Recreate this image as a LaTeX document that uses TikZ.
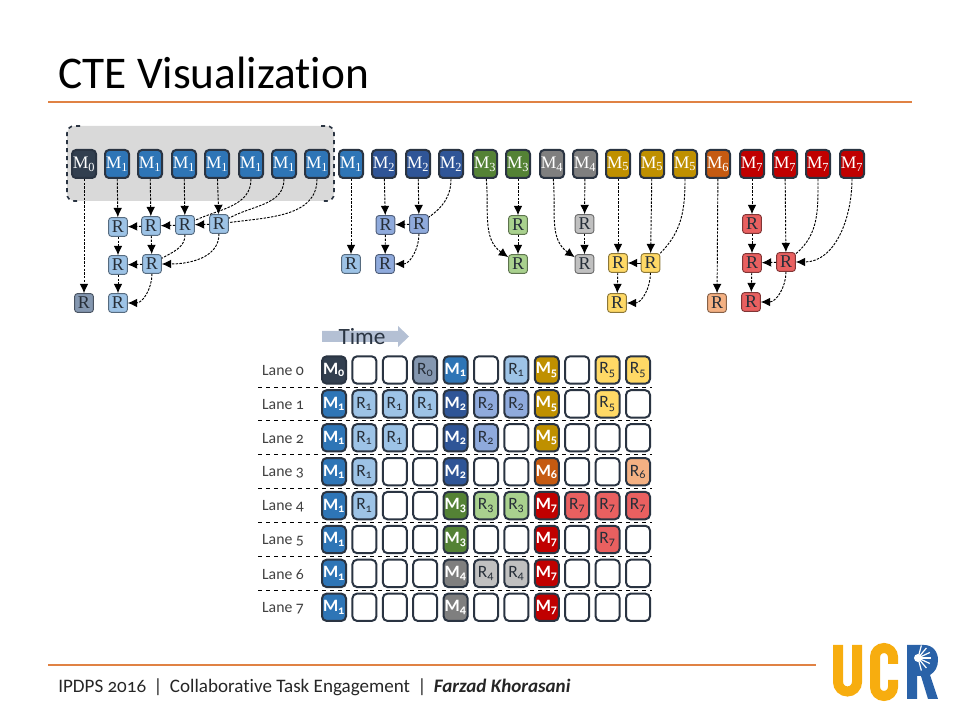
\documentclass[tikz,border=0pt]{standalone}
\usepackage{fontspec}
\setmainfont{Carlito}[Numbers=OldStyle,Ligatures=NoCommon]
\newfontfamily\serifbox{Liberation Serif}
\usetikzlibrary{positioning,arrows.meta,calc}
\definecolor{M0}{HTML}{323F4F}
\definecolor{M1}{HTML}{2E75B6}
\definecolor{M2}{HTML}{2F5597}
\definecolor{M3}{HTML}{548235}
\definecolor{M4}{HTML}{7F7F7F}
\definecolor{M5}{HTML}{BF9000}
\definecolor{M6}{HTML}{C55A11}
\definecolor{M7}{HTML}{C00000}
\definecolor{R0}{HTML}{8497B0}
\definecolor{R1}{HTML}{9DC3E6}
\definecolor{R2}{HTML}{8FAADC}
\definecolor{R3}{HTML}{A9D18E}
\definecolor{R4}{HTML}{C0C0C0}
\definecolor{R5}{HTML}{FFD966}
\definecolor{R6}{HTML}{F4B183}
\definecolor{R7}{HTML}{E96060}
\definecolor{E0}{HTML}{FFFFFF}
\definecolor{txtM}{HTML}{FFFFFF}
\definecolor{txtR}{HTML}{262E38}
\definecolor{txtE}{HTML}{FFFFFF}
\definecolor{boxedge}{HTML}{2A3442}
\definecolor{rulecol}{HTML}{E08244}
\definecolor{ucrgold}{HTML}{F7AD0F}
\definecolor{ucrblue}{HTML}{2A62A8}
\definecolor{timefill}{HTML}{B4C0D4}
\newcommand{\celltxt}[2]{\if#1E\else\if#1M\bfseries\fi#1\textsubscript{#2}\fi}
\tikzset{
  mtop/.style={draw=boxedge,line width=1.5pt,rounded corners=3pt,fill=#1,text=white,inner sep=0pt,minimum width=18pt,minimum height=21pt,font=\serifbox\fontsize{13.2}{16}\selectfont},
  rtop/.style={draw=#1!55!black,line width=.7pt,rounded corners=2pt,fill=#1,text=txtR,inner sep=0pt,minimum width=14pt,minimum height=14pt,font=\serifbox\fontsize{13.5}{16}\selectfont},
  cell/.style={draw=boxedge,line width=1.5pt,rounded corners=3.5pt,inner sep=0pt,minimum width=18pt,minimum height=20.5pt,font=\fontsize{13}{16}\selectfont},
  dep/.style={dash pattern=on 1.8pt off 1pt,line width=.7pt,-{Latex[length=7pt,width=6.5pt]}},
  depend/.style={dash pattern=on 1.8pt off 1pt,line width=.7pt},
  lane/.style={font=\fontsize{11.8}{14}\selectfont,text=black!75},
  rowsep/.style={dashed,line width=.7pt}
}
\begin{document}
\begin{tikzpicture}[x=.75pt,y=.75pt]
\useasboundingbox (0,0) rectangle (960,720);
\node[anchor=west,inner sep=0pt,font=\fontsize{34}{40}\selectfont] (title) at (58,647) {CTE Visualization};
\draw[rulecol,line width=1.5pt] (48,618) -- (912,618);
\fill[black!15,rounded corners=6pt] (67,594) rectangle (334,519);
\draw[boxedge,line width=1.2pt,dashed] (80,594) -- (74,594) arc[start angle=90,end angle=180,radius=7] -- (67,526) arc[start angle=180,end angle=270,radius=7] -- (80,519);
\draw[boxedge,line width=1.2pt,dashed] (321,594) -- (327,594) arc[start angle=90,end angle=0,radius=7] -- (334,526) arc[start angle=0,end angle=-90,radius=7] -- (321,519);
\foreach \x/\lvl [count=\i] in {84/0,117/1,150/1,184/1,217/1,251/1,284/1,317/1,351/1,384/2,418/2,451/2,485/3,518/3,552/4,585/4,618/5,652/5,685/5,718/6,752/7,785/7,818/7,852/7}
  \node[mtop=M\lvl] (m\i) at (\x,556) {M\textsubscript{\lvl}};
\foreach \name/\x/\y/\col in {Rz/84/417/R0,Ra/118/493/R1,Rb/151/494/R1,Rc/185/495/R1,Rd/219/496/R1,Re/118/455/R1,Rf/152/456/R1,Rg/118/417/R1,Ba/351/456/R1,Bb/385.5/495/R2,Bc/419/496/R2,Bd/385/456/R2,Ga/518/495/R3,Gb/518/456/R3,Ha/584.5/496/R4,Hb/584.5/456/R4,Ya/618/457/R5,Yb/650.5/457/R5,Yc/617/417/R5,Oa/717/417/R6,Pa/752/496/R7,Pb/752/457/R7,Pc/786/458/R7,Pd/751/418/R7}
  \node[rtop=\col] (\name) at (\x,\y) {R};
\foreach \a/\b in {m1/Rz,m2/Ra,m3/Rb,m4/Rc,m5/Rd,Rd/Rc,Rc/Rb,Rb/Ra,Ra/Re,Rb/Rf,Rf/Re,Re/Rg,m9/Ba,m10/Bb,m11/Bc,Bc/Bb,Bb/Bd,m14/Ga,Ga/Gb,m16/Ha,Ha/Hb,m17/Ya,m18/Yb,Yb/Ya,Ya/Yc,m20/Oa,m21/Pa,Pa/Pb,Pb/Pd,m22/Pc,Pc/Pb}
  \draw[dep] (\a) -- (\b);
\foreach \a/\b/\angin in {m6/Rc/25,m7/Rd/30,m8/Rd/8,Rc/Rf/30,m12/Bc/35,m19/Yb/45,m23/Pc/40}
  \draw[depend] (\a) to[out=-90,in=\angin] (\b);
\foreach \a/\b in {Rd/Rf,Rf/Rg,Bc/Bd,Yb/Yc,m24/Pc,Pc/Pd}
  \draw[dep] (\a) to[out=-90,in=0] (\b);
\draw[dep] (m13) to[out=-85,in=145] (Gb);
\draw[dep] (m15) to[out=-85,in=145] (Hb);
\fill[timefill] (322,389) -- (398,389) -- (398,394) -- (409,383.5) -- (398,373) -- (398,378) -- (322,378) -- cycle;
\node[font=\fontsize{17.5}{20}\selectfont,text=boxedge] (time) at (362,383) {Time};
\foreach \row/\cells in {
  0/{M/0,E/0,E/0,R/0,M/1,E/0,R/1,M/5,E/0,R/5,R/5},
  1/{M/1,R/1,R/1,R/1,M/2,R/2,R/2,M/5,E/0,R/5,E/0},
  2/{M/1,R/1,R/1,E/0,M/2,R/2,E/0,M/5,E/0,E/0,E/0},
  3/{M/1,R/1,E/0,E/0,M/2,E/0,E/0,M/6,E/0,E/0,R/6},
  4/{M/1,R/1,E/0,E/0,M/3,R/3,R/3,M/7,R/7,R/7,R/7},
  5/{M/1,E/0,E/0,E/0,M/3,E/0,E/0,M/7,E/0,R/7,E/0},
  6/{M/1,E/0,E/0,E/0,M/4,R/4,R/4,M/7,E/0,E/0,E/0},
  7/{M/1,E/0,E/0,E/0,M/4,E/0,E/0,M/7,E/0,E/0,E/0}}{
  \pgfmathsetmacro{\rowy}{350-33.9*\row}
  \node[lane] (lane\row) at (283,\rowy-1) {Lane \row};
  \foreach \kind/\lvl [count=\col from 0] in \cells {
    \pgfmathsetmacro{\colx}{334+30.4*\col}
    \node[cell,fill=\kind\lvl,text=txt\kind] (c\row-\col) at (\colx,\rowy) {\celltxt{\kind}{\lvl}};
  }
}
\foreach \row in {0,...,6}{
  \pgfmathsetmacro{\sepy}{333-33.9*\row}
  \draw[rowsep] (258,\sepy) -- (652,\sepy);
}
\draw[rulecol,line width=1.5pt] (48,55) -- (816,55);
\node[anchor=west,inner sep=0pt,font=\fontsize{14.3}{16}\selectfont,text=black!85] (footer) at (58,32.5) {IPDPS 2016 \,|\, Collaborative Task Engagement \,|\, \textbf{\textit{Farzad Khorasani}}};
\draw[ucrgold,line width=7.5pt] (838,75) -- (838,38) arc[start angle=180,end angle=360,radius=9.5] -- (857,75);
\draw[ucrgold,line width=7.5pt] (893,56) -- (893,63) arc[start angle=0,end angle=180,radius=9] -- (875,33) arc[start angle=180,end angle=360,radius=9] -- (893,40);
\fill[ucrblue] (907,75) -- (924,75) .. controls (933,75) and (938,68) .. (938,60) .. controls (938,53) and (935,48) .. (930,45) -- (938,21) -- (928,21) -- (921,44) -- (917,44) -- (917,21) -- (907,21) -- cycle;
\foreach \ang in {-75,-50,...,75}
  \draw[white,line width=.9pt] (918,62) -- ++(\ang:13);
\fill[white] (918,62) circle (4);
\end{tikzpicture}
\end{document}
